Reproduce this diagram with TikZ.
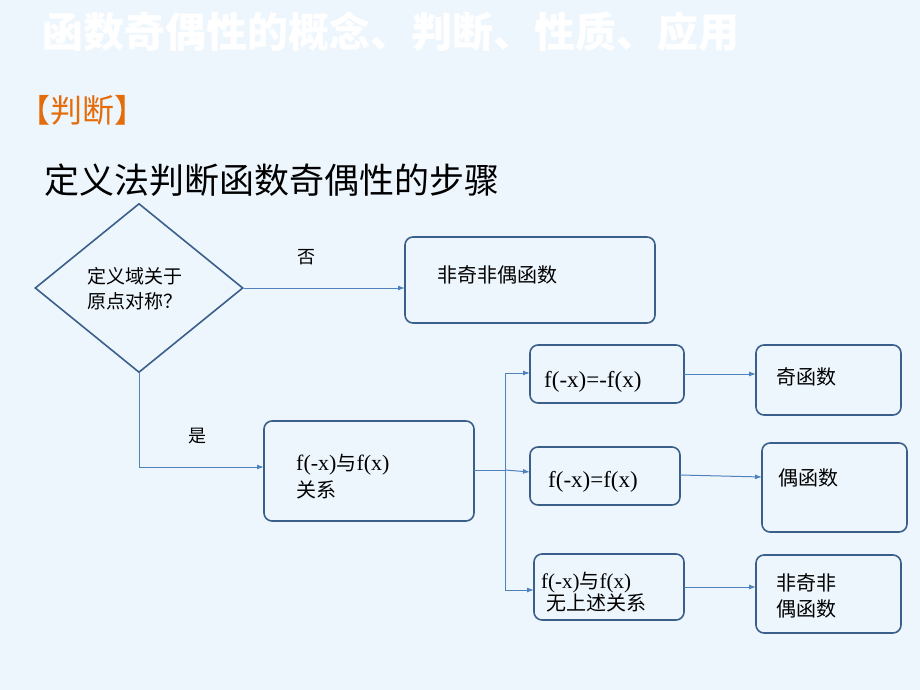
\documentclass[tikz,border=0pt]{standalone}
\usepackage{fontspec}
\setmainfont{Liberation Serif}
\newfontfamily\cjk{Noto Sans CJK SC}
\usetikzlibrary{shapes.geometric,arrows.meta}
\definecolor{bg}{HTML}{EEF6FD}
\definecolor{bd}{HTML}{3A5F8A}
\definecolor{ar}{HTML}{4F81BD}
\definecolor{org}{HTML}{E46C0A}
\begin{document}
\begin{tikzpicture}[x=1pt,y=-1pt,
  bx/.style={draw=bd,line width=1.6pt,rounded corners=8pt},
  con/.style={draw=ar,line width=1pt,-{Latex[length=7pt,width=5pt]}},
  tx/.style={anchor=west,align=left,font=\fontsize{21}{25}\selectfont,inner sep=0pt}]
\fill[bg] (0,0) rectangle (920,690);
\useasboundingbox (0,0) rectangle (920,690);
\node[anchor=west,text=white,font=\cjk\bfseries\fontsize{41}{43}\selectfont,inner sep=0pt] (title) at (42,32) {函数奇偶性的概念、判断、性质、应用};
\node[anchor=west,text=org,font=\cjk\fontsize{32}{34}\selectfont,inner sep=0pt] (sub) at (18,110) {【判断】};
\node[anchor=west,font=\cjk\fontsize{35}{36}\selectfont,inner sep=0pt] (head) at (44,180) {定义法判断函数奇偶性的步骤};
\node[draw=bd,line width=1.6pt,diamond,minimum width=208pt,minimum height=169pt,inner sep=0pt] (dia) at (139,288) {};
\node[tx,font=\cjk\fontsize{19}{25}\selectfont] (dt) at (87,289) {定义域关于\\原点对称？};
\draw[bx] (405,237) rectangle (655,323); \coordinate (b1) at (405,288);
\node[tx,font=\cjk\fontsize{20}{24}\selectfont] (t1) at (437,275) {非奇非偶函数};
\draw[bx] (264,421) rectangle (474,521); \coordinate (rl) at (264,467); \coordinate (rr) at (474,470);
\node[tx,font=\fontsize{22}{27}\selectfont] (trel) at (296,477) {f(-x){\cjk\fontsize{20}{24}\selectfont 与}f(x)\\{\cjk\fontsize{20}{24}\selectfont 关系}};
\draw[bx] (530,345) rectangle (684,403); \coordinate (c1) at (530,373); \coordinate (c1r) at (684,374);
\node[tx,font=\fontsize{23}{26}\selectfont] (tc1) at (544,382) {f(-x)=-f(x)};
\draw[bx] (530,447) rectangle (680,505); \coordinate (c2) at (530,472); \coordinate (c2r) at (680,475);
\node[tx,font=\fontsize{23}{26}\selectfont] (tc2) at (548,482) {f(-x)=f(x)};
\draw[bx] (534,554) rectangle (684,620); \coordinate (c3) at (534,590); \coordinate (c3r) at (684,587);
\node[tx] (tc3) at (541,592) {f(-x){\cjk\fontsize{20}{24}\selectfont 与}f(x)\\[-3pt]\hspace*{5pt}{\cjk\fontsize{20}{24}\selectfont 无上述关系}};
\draw[bx] (756,345) rectangle (901,415); \coordinate (r1) at (756,374);
\node[tx,font=\cjk\fontsize{20}{24}\selectfont] (tr1) at (776,377) {奇函数};
\draw[bx] (762,443) rectangle (907,532); \coordinate (r2) at (762,477);
\node[tx,font=\cjk\fontsize{20}{24}\selectfont] (tr2) at (778,478) {偶函数};
\draw[bx] (756,555) rectangle (901,633); \coordinate (r3) at (756,587);
\node[tx,font=\cjk\fontsize{20}{26}\selectfont] (tr3) at (776,596) {非奇非\\偶函数};
\draw[con] (dia.east) -- (b1);
\draw[con] (dia.south) |- (rl);
\coordinate (tk) at (505,470);
\draw[draw=ar,line width=1pt] (rr) -- (tk);
\draw[con] (tk) |- (c1);
\draw[con] (tk) -- (c2);
\draw[con] (tk) |- (c3);
\draw[con] (c1r) -- (r1);
\draw[con] (c2r) -- (r2);
\draw[con] (c3r) -- (r3);
\node[font=\cjk\fontsize{18}{20}\selectfont] (no) at (306,257) {否};
\node[font=\cjk\fontsize{18}{20}\selectfont] (yes) at (197,436) {是};
\end{tikzpicture}
\end{document}
